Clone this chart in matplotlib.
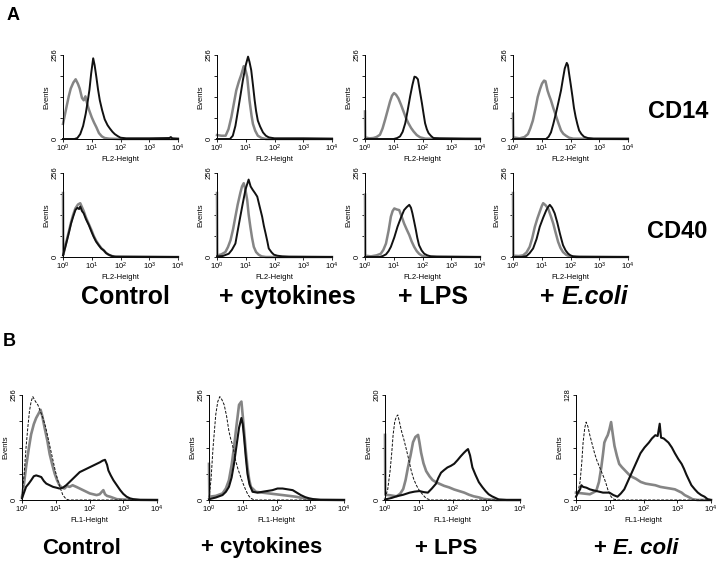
import numpy as np
import matplotlib
matplotlib.use("Agg")
import matplotlib.pyplot as plt
from matplotlib.ticker import FixedLocator, FuncFormatter, NullLocator

plt.rcParams['font.family'] = ['Liberation Sans', 'DejaVu Sans']
plt.rcParams['mathtext.fontset'] = 'custom'
plt.rcParams['mathtext.rm'] = 'Liberation Sans'
plt.rcParams['mathtext.it'] = 'Liberation Sans:italic'
plt.rcParams['mathtext.bf'] = 'Liberation Sans:bold'

# histogram traces: (log10 fluorescence, events)
# --- panel A, CD14 row ---
cd14_control_gray = [(0, 46), (0.12, 97), (0.2, 130), (0.27, 154), (0.36, 172), (0.44, 182), (0.52, 168),
                     (0.58, 154), (0.66, 125), (0.72, 118), (0.78, 130), (0.84, 108), (0.9, 90), (1.0, 66),
                     (1.08, 50), (1.16, 36), (1.25, 18), (1.35, 8), (1.45, 3), (1.6, 1), (2.0, 0), (4.0, 0)]
cd14_control_black = [(0, 0), (0.4, 0), (0.5, 3), (0.6, 15), (0.7, 40), (0.79, 77), (0.86, 115), (0.92, 150),
                      (0.98, 200), (1.05, 246), (1.1, 225), (1.16, 189), (1.22, 150), (1.28, 118), (1.36, 88),
                      (1.45, 60), (1.55, 42), (1.63, 32), (1.72, 22), (1.8, 15), (1.9, 9), (2.0, 4), (2.2, 2),
                      (3.0, 2), (3.7, 3), (3.75, 6), (3.8, 2), (4.0, 1)]
cd14_cytok_gray = [(0, 12), (0.15, 10), (0.3, 10), (0.4, 30), (0.5, 67), (0.58, 105), (0.67, 148), (0.76, 175),
                   (0.84, 195), (0.93, 222), (0.98, 215), (1.05, 189), (1.13, 118), (1.2, 72), (1.25, 46),
                   (1.33, 25), (1.42, 10), (1.55, 3), (1.7, 0), (4, 0)]
cd14_cytok_black = [(0, 0), (0.45, 0), (0.55, 10), (0.64, 40), (0.73, 87), (0.82, 135), (0.9, 179), (1.0, 225),
                    (1.08, 251), (1.13, 235), (1.19, 210), (1.25, 165), (1.31, 118), (1.36, 85), (1.42, 56),
                    (1.5, 38), (1.6, 20), (1.7, 10), (1.8, 5), (2.0, 2), (3.0, 2), (4.0, 1)]
cd14_lps_gray = [(0, 84), (0.01, 5), (0.15, 2), (0.29, 3), (0.4, 6), (0.52, 13), (0.61, 32), (0.7, 59),
                 (0.79, 88), (0.87, 114), (0.94, 132), (1.01, 140), (1.08, 135), (1.16, 124), (1.25, 105),
                 (1.34, 84), (1.42, 65), (1.51, 48), (1.6, 34), (1.69, 23), (1.8, 12), (1.92, 5), (2.1, 1), (4, 0)]
cd14_lps_black = [(0, 0), (1.0, 0), (1.12, 3), (1.22, 8), (1.31, 22), (1.4, 48), (1.48, 85), (1.57, 130),
                  (1.65, 165), (1.72, 190), (1.78, 188), (1.84, 182), (1.92, 140), (1.98, 109), (2.04, 75),
                  (2.09, 48), (2.15, 30), (2.21, 18), (2.3, 9), (2.38, 3), (2.6, 2), (3.5, 1), (4, 1)]
cd14_ecoli_gray = [(0, 77), (0.01, 5), (0.23, 2), (0.4, 6), (0.52, 15), (0.6, 32), (0.69, 56), (0.78, 92),
                   (0.86, 128), (0.94, 152), (1.01, 169), (1.08, 178), (1.13, 176), (1.2, 148), (1.26, 132),
                   (1.32, 118), (1.4, 95), (1.49, 72), (1.58, 48), (1.67, 26), (1.75, 16), (1.84, 10),
                   (1.95, 4), (2.1, 1), (4, 0)]
cd14_ecoli_black = [(0, 0), (1.15, 0), (1.24, 7), (1.32, 20), (1.4, 45), (1.49, 77), (1.58, 112), (1.67, 148),
                    (1.74, 185), (1.8, 215), (1.87, 232), (1.91, 225), (1.95, 200), (2.01, 165), (2.07, 128),
                    (2.12, 95), (2.18, 67), (2.24, 45), (2.3, 26), (2.38, 15), (2.47, 7), (2.6, 3), (2.8, 1),
                    (4, 1)]

# --- panel A, CD40 row ---
cd40_control_gray = [(0, 195), (0.01, 6), (0.07, 30), (0.14, 55), (0.21, 80), (0.28, 106), (0.35, 128),
                     (0.43, 148), (0.52, 160), (0.6, 164), (0.66, 152), (0.72, 140), (0.8, 120), (0.9, 100),
                     (1.0, 80), (1.07, 64), (1.15, 50), (1.24, 38), (1.33, 27), (1.42, 20), (1.5, 12),
                     (1.59, 7), (1.7, 3), (1.85, 1), (4, 0)]
cd40_control_black = [(0, 5), (0.07, 27), (0.14, 51), (0.21, 76), (0.28, 102), (0.35, 122), (0.43, 143),
                      (0.5, 150), (0.56, 146), (0.6, 154), (0.66, 140), (0.72, 133), (0.8, 115), (0.9, 97),
                      (1.0, 75), (1.07, 61), (1.15, 47), (1.24, 36), (1.33, 26), (1.42, 20), (1.5, 12),
                      (1.59, 7), (1.7, 3), (1.8, 1), (4, 0)]
cd40_cytok_gray = [(0, 195), (0.01, 5), (0.15, 8), (0.29, 15), (0.38, 30), (0.47, 51), (0.56, 85), (0.64, 123),
                   (0.72, 160), (0.81, 195), (0.87, 215), (0.93, 225), (0.99, 205), (1.05, 174), (1.1, 130),
                   (1.16, 92), (1.22, 58), (1.28, 31), (1.36, 15), (1.45, 7), (1.55, 2), (1.7, 0), (4, 0)]
cd40_cytok_black = [(0, 2), (0.2, 3), (0.41, 10), (0.52, 22), (0.64, 41), (0.72, 80), (0.81, 123), (0.9, 165),
                    (0.99, 205), (1.05, 222), (1.1, 236), (1.17, 215), (1.24, 205), (1.32, 195), (1.4, 184),
                    (1.48, 155), (1.57, 123), (1.63, 95), (1.69, 72), (1.75, 48), (1.8, 26), (1.9, 14),
                    (1.98, 7), (2.1, 4), (2.27, 2), (2.5, 1), (4, 0)]
cd40_lps_gray = [(0, 190), (0.01, 4), (0.21, 2), (0.4, 5), (0.55, 10), (0.64, 22), (0.73, 41), (0.82, 80),
                 (0.9, 123), (0.96, 140), (1.02, 148), (1.1, 145), (1.19, 143), (1.28, 122), (1.36, 102),
                 (1.45, 84), (1.54, 67), (1.62, 48), (1.71, 31), (1.8, 18), (1.88, 10), (1.98, 4), (2.1, 1),
                 (4, 0)]
cd40_lps_black = [(0, 0), (0.5, 0), (0.62, 3), (0.73, 8), (0.82, 18), (0.9, 31), (1.02, 60), (1.13, 92),
                  (1.25, 120), (1.36, 143), (1.45, 152), (1.54, 159), (1.6, 150), (1.65, 133), (1.71, 108),
                  (1.77, 82), (1.82, 58), (1.88, 36), (1.97, 20), (2.06, 10), (2.17, 5), (2.29, 2), (2.5, 1),
                  (4, 0)]
cd40_ecoli_gray = [(0, 195), (0.01, 4), (0.2, 3), (0.35, 5), (0.47, 14), (0.58, 31), (0.67, 58), (0.76, 92),
                   (0.85, 118), (0.93, 138), (1.0, 155), (1.05, 164), (1.13, 158), (1.22, 148), (1.31, 126),
                   (1.4, 102), (1.48, 75), (1.57, 46), (1.65, 28), (1.74, 15), (1.86, 6), (1.98, 2), (2.2, 0),
                   (4, 0)]
cd40_ecoli_black = [(0, 0), (0.3, 0), (0.47, 3), (0.58, 12), (0.7, 26), (0.82, 55), (0.93, 92), (1.05, 120),
                    (1.16, 143), (1.22, 152), (1.28, 159), (1.36, 150), (1.45, 133), (1.54, 105), (1.63, 72),
                    (1.69, 52), (1.74, 36), (1.83, 20), (1.92, 10), (2.0, 5), (2.09, 2), (2.3, 1), (4, 0)]

# --- panel B (FL1) ---
b_control_dash = [(0, 8), (0.06, 60), (0.12, 128), (0.17, 175), (0.22, 216), (0.27, 240), (0.32, 252),
                  (0.4, 240), (0.47, 232), (0.55, 215), (0.62, 200), (0.7, 178), (0.77, 152), (0.85, 122),
                  (0.92, 96), (0.99, 70), (1.06, 48), (1.14, 28), (1.21, 12), (1.31, 2), (1.4, 0), (4, 0)]
b_control_gray = [(0, 8), (0.06, 40), (0.12, 80), (0.2, 125), (0.27, 160), (0.35, 185), (0.42, 200), (0.5, 212),
                  (0.55, 220), (0.6, 205), (0.67, 176), (0.75, 145), (0.82, 112), (0.9, 85), (0.97, 64),
                  (1.04, 48), (1.11, 36), (1.18, 30), (1.26, 28), (1.33, 34), (1.41, 32), (1.5, 36),
                  (1.61, 32), (1.71, 28), (1.81, 24), (1.91, 20), (2.01, 16), (2.11, 14), (2.21, 12),
                  (2.3, 14), (2.41, 24), (2.46, 14), (2.52, 10), (2.61, 8), (2.71, 5), (2.81, 2), (3.0, 1),
                  (4, 0)]
b_control_black = [(0, 4), (0.06, 18), (0.12, 32), (0.2, 40), (0.27, 48), (0.35, 58), (0.42, 60), (0.5, 58),
                   (0.57, 56), (0.65, 46), (0.72, 40), (0.82, 36), (0.92, 32), (1.02, 30), (1.11, 28),
                   (1.21, 30), (1.31, 36), (1.41, 44), (1.51, 52), (1.61, 60), (1.71, 68), (1.81, 72),
                   (1.91, 76), (2.01, 80), (2.11, 84), (2.21, 88), (2.31, 92), (2.39, 96), (2.46, 98),
                   (2.52, 86), (2.56, 72), (2.63, 60), (2.71, 48), (2.81, 36), (2.91, 24), (3.0, 15),
                   (3.1, 8), (3.2, 4), (3.3, 2), (3.5, 0), (4, 0)]
b_cytok_dash = [(0, 4), (0.06, 50), (0.12, 128), (0.2, 208), (0.26, 240), (0.32, 252), (0.38, 245),
                (0.45, 232), (0.52, 205), (0.59, 168), (0.64, 150), (0.69, 136), (0.74, 118), (0.79, 96),
                (0.86, 75), (0.94, 56), (1.01, 40), (1.09, 24), (1.16, 12), (1.24, 4), (1.35, 0), (4, 0)]
b_cytok_gray = [(0, 88), (0.01, 8), (0.2, 10), (0.4, 16), (0.5, 28), (0.59, 48), (0.67, 85), (0.74, 128),
                (0.82, 185), (0.89, 232), (0.96, 240), (1.0, 205), (1.04, 168), (1.09, 120), (1.14, 80),
                (1.19, 50), (1.24, 32), (1.39, 20), (1.58, 18), (1.78, 16), (1.98, 14), (2.18, 12),
                (2.38, 10), (2.57, 8), (2.77, 5), (2.97, 2), (3.2, 1), (4, 0)]
b_cytok_black = [(0, 2), (0.2, 6), (0.4, 12), (0.5, 20), (0.59, 32), (0.67, 55), (0.74, 88), (0.82, 135),
                 (0.89, 176), (0.96, 200), (1.0, 185), (1.04, 152), (1.09, 105), (1.14, 64), (1.2, 38),
                 (1.29, 20), (1.44, 18), (1.58, 20), (1.73, 22), (1.88, 24), (2.03, 28), (2.18, 28),
                 (2.33, 26), (2.48, 24), (2.6, 18), (2.72, 12), (2.85, 7), (2.97, 4), (3.1, 2), (3.3, 0),
                 (4, 0)]
b_lps_dash = [(0, 3), (0.08, 20), (0.15, 55), (0.2, 90), (0.24, 124), (0.29, 150), (0.34, 159), (0.38, 162),
              (0.43, 148), (0.49, 131), (0.56, 115), (0.63, 97), (0.7, 78), (0.78, 55), (0.85, 40), (0.93, 28),
              (1.0, 20), (1.07, 14), (1.15, 8), (1.22, 3), (1.35, 0), (4, 0)]
b_lps_gray = [(0, 124), (0.01, 10), (0.15, 9), (0.34, 7), (0.45, 12), (0.54, 21), (0.61, 38), (0.68, 62),
              (0.76, 86), (0.83, 110), (0.9, 120), (0.98, 124), (1.02, 110), (1.07, 90), (1.14, 70),
              (1.22, 55), (1.32, 45), (1.41, 38), (1.51, 34), (1.61, 31), (1.75, 27), (1.9, 24), (2.05, 20),
              (2.2, 17), (2.35, 14), (2.49, 10), (2.63, 7), (2.78, 5), (2.93, 2), (3.07, 1), (3.3, 0), (4, 0)]
b_lps_black = [(0, 1), (0.2, 4), (0.34, 7), (0.54, 10), (0.73, 14), (0.88, 16), (1.02, 17), (1.15, 15),
               (1.27, 14), (1.39, 22), (1.51, 31), (1.58, 42), (1.66, 52), (1.75, 57), (1.85, 62), (1.95, 65),
               (2.05, 69), (2.15, 76), (2.24, 83), (2.34, 90), (2.42, 95), (2.46, 97), (2.52, 85), (2.59, 62),
               (2.68, 48), (2.78, 34), (2.88, 25), (2.98, 17), (3.07, 11), (3.17, 7), (3.27, 4), (3.37, 1),
               (3.6, 0), (4, 0)]
b_ecoli_dash = [(0, 4), (0.06, 10), (0.12, 22), (0.17, 45), (0.21, 70), (0.26, 88), (0.3, 95), (0.35, 90),
                (0.41, 79), (0.48, 68), (0.55, 57), (0.62, 48), (0.7, 40), (0.77, 33), (0.84, 26), (0.89, 20),
                (0.94, 13), (0.99, 8), (1.04, 4), (1.12, 1), (1.25, 0), (4, 0)]
b_ecoli_gray = [(0, 9), (0.2, 8), (0.41, 7), (0.6, 11), (0.68, 22), (0.75, 40), (0.8, 56), (0.84, 70),
                (0.89, 75), (0.94, 79), (0.99, 86), (1.04, 95), (1.09, 80), (1.14, 66), (1.21, 54), (1.28, 44),
                (1.36, 40), (1.43, 37), (1.5, 34), (1.57, 31), (1.67, 28), (1.77, 26), (1.92, 22), (2.06, 20),
                (2.2, 19), (2.35, 18), (2.5, 16), (2.64, 15), (2.79, 14), (2.93, 13), (3.03, 11), (3.13, 9),
                (3.22, 6), (3.32, 4), (3.45, 1), (3.6, 0), (4, 0)]
b_ecoli_black = [(0, 4), (0.06, 9), (0.12, 13), (0.16, 18), (0.21, 16), (0.31, 15), (0.41, 13), (0.5, 12),
                 (0.6, 11), (0.7, 10), (0.8, 9), (0.9, 9), (0.99, 9), (1.11, 6), (1.23, 4), (1.33, 8),
                 (1.43, 13), (1.55, 24), (1.67, 35), (1.79, 46), (1.91, 57), (2.03, 64), (2.16, 70),
                 (2.25, 75), (2.35, 79), (2.42, 78), (2.48, 93), (2.52, 76), (2.6, 75), (2.74, 70),
                 (2.84, 64), (2.93, 57), (3.03, 50), (3.13, 44), (3.2, 38), (3.27, 31), (3.35, 24),
                 (3.42, 18), (3.52, 13), (3.61, 9), (3.71, 6), (3.81, 4), (3.9, 1), (4, 0)]

conditions_a = ['Control', '+ cytokines', '+ LPS', '+ ']
conditions_b = ['Control', '+ cytokines', '+ LPS', '+ ']
ecoli_a = 'E.coli'
ecoli_b = 'E. coli'
markers_a = ['CD14', 'CD40']
ymax_b = [256, 256, 200, 128]

GRAY = '#858585'
BLACK = '#111111'
W, H = 720, 565

fig = plt.figure(figsize=(7.2, 5.65), dpi=100)


def px_axes(left, top, w, h):
    return fig.add_axes([left / W, 1 - (top + h) / H, w / W, h / H])


def style_axes(ax, ymax, xlabel):
    ax.set_xscale('log')
    ax.set_xlim(1, 1e4)
    ax.set_ylim(0, ymax)
    for s in ('top', 'right'):
        ax.spines[s].set_visible(False)
    for s in ('left', 'bottom'):
        ax.spines[s].set_linewidth(0.7)
    ax.xaxis.set_major_locator(FixedLocator([1, 10, 100, 1000, 10000]))
    ax.xaxis.set_minor_locator(NullLocator())
    ax.xaxis.set_major_formatter(FuncFormatter(lambda v, _: r'$10^{%d}$' % round(np.log10(v))))
    ax.yaxis.set_major_locator(FixedLocator(np.linspace(0, ymax, 5)))
    ax.set_yticklabels(['0', '', '', '', str(ymax)])
    ax.tick_params(labelsize=5.5, length=2, width=0.6, pad=1)
    ax.tick_params(axis='y', labelrotation=90)
    for lab in ax.get_yticklabels():
        lab.set_va('center')
    ax.set_xlabel(xlabel, fontsize=5.5, labelpad=1)
    ax.set_ylabel('Events', fontsize=5.5, labelpad=1)


def trace(ax, pts, **kw):
    arr = np.array(pts, dtype=float)
    ax.plot(10 ** arr[:, 0], arr[:, 1], clip_on=False, **kw)


def cond_label(x, y, text, italic, size):
    if italic is None:
        fig.text(x / W, 1 - y / H, text, ha='center', va='center', fontsize=size, fontweight='bold')
        return
    # "+ " upright followed by the italic species name
    t1 = fig.text(x / W, 1 - y / H, text, ha='left', va='center', fontsize=size, fontweight='bold')
    plt.annotate(italic, xy=(1, 0), xycoords=t1, va='bottom', ha='left',
                 fontsize=size, fontweight='bold', style='italic')


# panel A
a_lefts = [63, 217, 365, 513]
a_tops = [55, 173]
a_rows = [
    [(cd14_control_gray, cd14_control_black), (cd14_cytok_gray, cd14_cytok_black),
     (cd14_lps_gray, cd14_lps_black), (cd14_ecoli_gray, cd14_ecoli_black)],
    [(cd40_control_gray, cd40_control_black), (cd40_cytok_gray, cd40_cytok_black),
     (cd40_lps_gray, cd40_lps_black), (cd40_ecoli_gray, cd40_ecoli_black)],
]
for r, row in enumerate(a_rows):
    for c, (g, b) in enumerate(row):
        ax = px_axes(a_lefts[c], a_tops[r], 115, 84)
        trace(ax, g, color=GRAY, lw=1.8, zorder=2)
        trace(ax, b, color=BLACK, lw=1.4, zorder=3)
        style_axes(ax, 256, 'FL2-Height')

# panel B
b_lefts = [22, 209, 385, 576]
b_sets = [(b_control_gray, b_control_black, b_control_dash),
          (b_cytok_gray, b_cytok_black, b_cytok_dash),
          (b_lps_gray, b_lps_black, b_lps_dash),
          (b_ecoli_gray, b_ecoli_black, b_ecoli_dash)]
for c, (g, b, d) in enumerate(b_sets):
    ax = px_axes(b_lefts[c], 395, 135, 105)
    trace(ax, g, color=GRAY, lw=1.9, zorder=2)
    trace(ax, b, color=BLACK, lw=1.5, zorder=3)
    trace(ax, d, color=BLACK, lw=0.7, ls=(0, (3, 1.5)), zorder=4)
    style_axes(ax, ymax_b[c], 'FL1-Height')

# panel letters and row markers
fig.text(13 / W, 1 - 16 / H, 'A', ha='center', va='center', fontsize=13, fontweight='bold')
fig.text(9 / W, 1 - 341 / H, 'B', ha='center', va='center', fontsize=13, fontweight='bold')
fig.text(678 / W, 1 - 112 / H, markers_a[0], ha='center', va='center', fontsize=17, fontweight='bold')
fig.text(677 / W, 1 - 232 / H, markers_a[1], ha='center', va='center', fontsize=17, fontweight='bold')

# condition labels
a_centers = [125, 287, 433]
for x, t in zip(a_centers, conditions_a[:3]):
    cond_label(x, 297, t, None, 18)
cond_label(540, 297, conditions_a[3], ecoli_a, 18)

b_centers = [82, 262, 446]
for x, t in zip(b_centers, conditions_b[:3]):
    cond_label(x, 548, t, None, 16)
cond_label(594, 548, conditions_b[3], ecoli_b, 16)

fig.savefig('out.png', dpi=100)
